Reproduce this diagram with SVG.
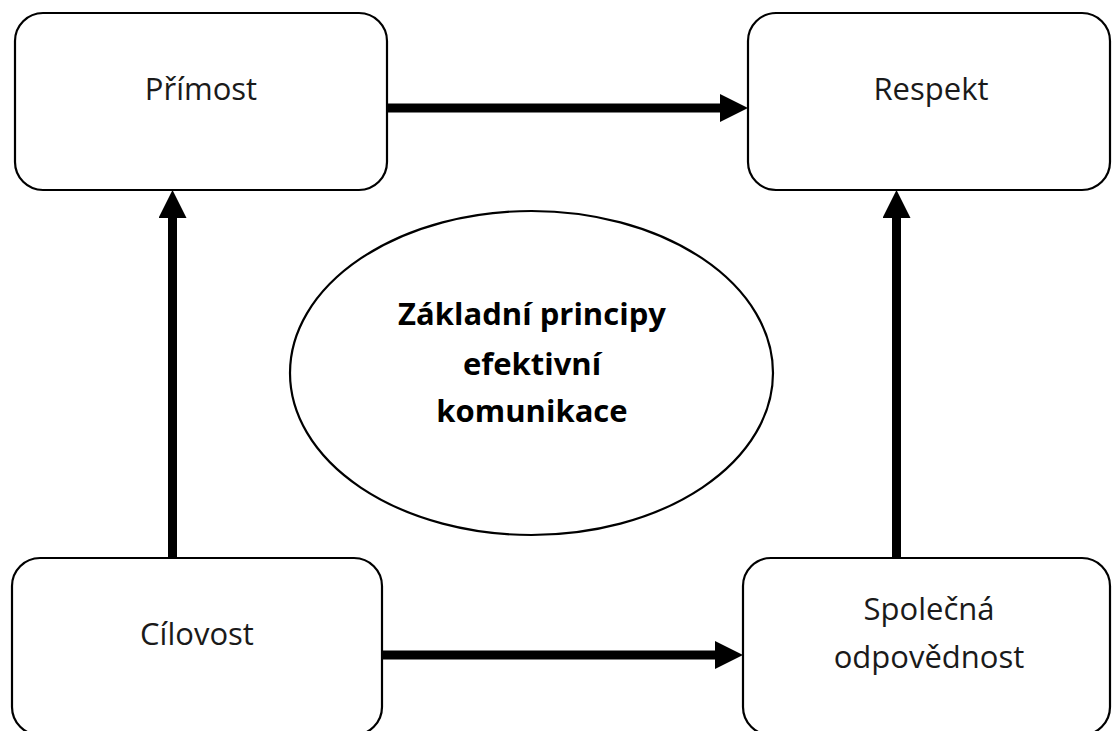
<svg xmlns="http://www.w3.org/2000/svg" width="1112" height="731" viewBox="0 0 1112 731">
  <style>
    .box { fill: #ffffff; stroke: #000000; stroke-width: 2.2; }
    .lbl { font-family: "Open Sans", "Noto Sans", "Liberation Sans", sans-serif; font-size: 31px; fill: #1a1a1a; text-anchor: middle; }
    .bold { font-weight: bold; fill: #000000; }
    .conn { stroke: #000000; stroke-width: 9; fill: none; }
  </style>
  <defs>
    <marker id="arrow" markerUnits="userSpaceOnUse" markerWidth="28" markerHeight="28" viewBox="0 0 28 28" refX="0" refY="14" orient="auto">
      <path d="M0,0 L28,14 L0,28 z" fill="#000000"/>
    </marker>
  </defs>
  <rect width="1112" height="731" fill="#ffffff"/>

  <g id="node-primost">
    <rect class="box" x="15" y="13" width="372" height="177" rx="28" ry="28"/>
    <text class="lbl" x="201" y="100">Přímost</text>
  </g>
  <g id="node-respekt">
    <rect class="box" x="748" y="13" width="362" height="177" rx="28" ry="28"/>
    <text class="lbl" x="931" y="100">Respekt</text>
  </g>
  <g id="node-cilovost">
    <rect class="box" x="12" y="558" width="370" height="177" rx="28" ry="28"/>
    <text class="lbl" x="197" y="645">Cílovost</text>
  </g>
  <g id="node-spolecna">
    <rect class="box" x="743" y="558" width="367" height="177" rx="28" ry="28"/>
    <text class="lbl" x="929" y="620">Společná</text>
    <text class="lbl" x="929" y="668">odpovědnost</text>
  </g>
  <g id="node-center">
    <ellipse class="box" cx="531.5" cy="373" rx="241.5" ry="162"/>
    <text class="lbl bold" x="532" y="325">Základní principy</text>
    <text class="lbl bold" x="532" y="375">efektivní</text>
    <text class="lbl bold" x="532" y="422">komunikace</text>
  </g>

  <g id="connectors">
    <line class="conn" x1="387" y1="108" x2="720" y2="108" marker-end="url(#arrow)"/>
    <line class="conn" x1="382" y1="655" x2="715" y2="655" marker-end="url(#arrow)"/>
    <line class="conn" x1="172.5" y1="558" x2="172.5" y2="218" marker-end="url(#arrow)"/>
    <line class="conn" x1="896.5" y1="558" x2="896.5" y2="218" marker-end="url(#arrow)"/>
  </g>
</svg>
